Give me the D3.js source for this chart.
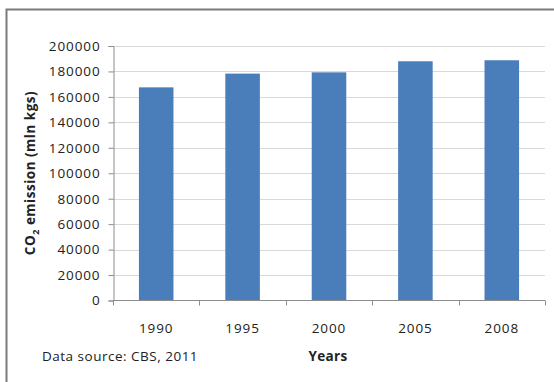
<!DOCTYPE html>
<html><head><meta charset="utf-8">
<script src="https://cdn.jsdelivr.net/npm/d3@7"></script>
<style>
html,body{margin:0;padding:0;background:#fff;}
text{font-family:"Open Sans",sans-serif;fill:#222;}
</style></head>
<body>
<svg id="c" width="554" height="382"></svg>
<script>
const categories = ["1990","1995","2000","2005","2008"];
const emissions = [167500, 178300, 179300, 188000, 188800];
const yTicks = [0,20000,40000,60000,80000,100000,120000,140000,160000,180000,200000];

const svg = d3.select("#c");
const m = {left:113, right:545, top:46, bottom:300.5};

// frame
svg.append("path").attr("d","M6.5,382 V9.5 H554").attr("fill","none").attr("stroke","#7a7a7a").attr("stroke-width",2);

const x = d3.scaleBand().domain(categories).range([m.left,m.right]).paddingInner(0.6).paddingOuter(0.3);
const y = d3.scaleLinear().domain([0,200000]).range([m.bottom,m.top]);

// gridlines
svg.append("g").selectAll("line").data(yTicks.slice(1)).join("line")
  .attr("x1",m.left).attr("x2",m.right)
  .attr("y1",d=>Math.round(y(d))+0.5).attr("y2",d=>Math.round(y(d))+0.5)
  .attr("stroke","#d9d9d9").attr("stroke-width",1);

// bars
svg.append("g").selectAll("rect").data(emissions).join("rect")
  .attr("x",(d,i)=>x(categories[i])).attr("width",x.bandwidth())
  .attr("y",d=>y(d)).attr("height",d=>y(0)-y(d))
  .attr("fill","#4a7ebb");

// y axis
const yAxis = d3.axisLeft(y).tickValues(yTicks).tickSize(5).tickPadding(8).tickFormat(d3.format("d"));
const gy = svg.append("g").attr("transform",`translate(${m.left+0.5},0)`).call(yAxis);
gy.selectAll("path,line").attr("stroke","#8c8c8c");
gy.selectAll("text").style("font-size","13.5px").attr("letter-spacing","0.9px");

// x axis with tick marks at category boundaries
const gx = svg.append("g").attr("transform",`translate(0,${m.bottom})`);
gx.append("line").attr("x1",m.left).attr("x2",m.right).attr("stroke","#8c8c8c");
const bounds = d3.range(categories.length+1).map(i=>m.left + i*(m.right-m.left)/categories.length);
gx.selectAll("line.t").data(bounds).join("line").attr("class","t")
  .attr("x1",d=>Math.round(d)+0.5).attr("x2",d=>Math.round(d)+0.5).attr("y1",0).attr("y2",5).attr("stroke","#8c8c8c");
gx.selectAll("text").data(categories).join("text")
  .attr("x",d=>x(d)+x.bandwidth()/2).attr("y",32).attr("text-anchor","middle")
  .style("font-size","13.5px").attr("letter-spacing","0.9px").text(d=>d);

// axis titles
svg.append("text").attr("x",328).attr("y",361).attr("text-anchor","middle")
  .style("font-size","13.5px").style("font-weight","bold").attr("letter-spacing","0.3px").text("Years");
svg.append("text").attr("x",42).attr("y",361)
  .style("font-size","13.5px").attr("letter-spacing","0.5px").text("Data source: CBS, 2011");

const yl = svg.append("text").attr("transform","translate(35,173) rotate(-90)").attr("text-anchor","middle")
  .style("font-size","13.5px").style("font-weight","bold").attr("letter-spacing","0.5px");
yl.append("tspan").text("CO");
yl.append("tspan").attr("dy",4).style("font-size","9px").text("2");
yl.append("tspan").attr("dy",-4).text(" emission (mln kgs)");
</script>
</body></html>
